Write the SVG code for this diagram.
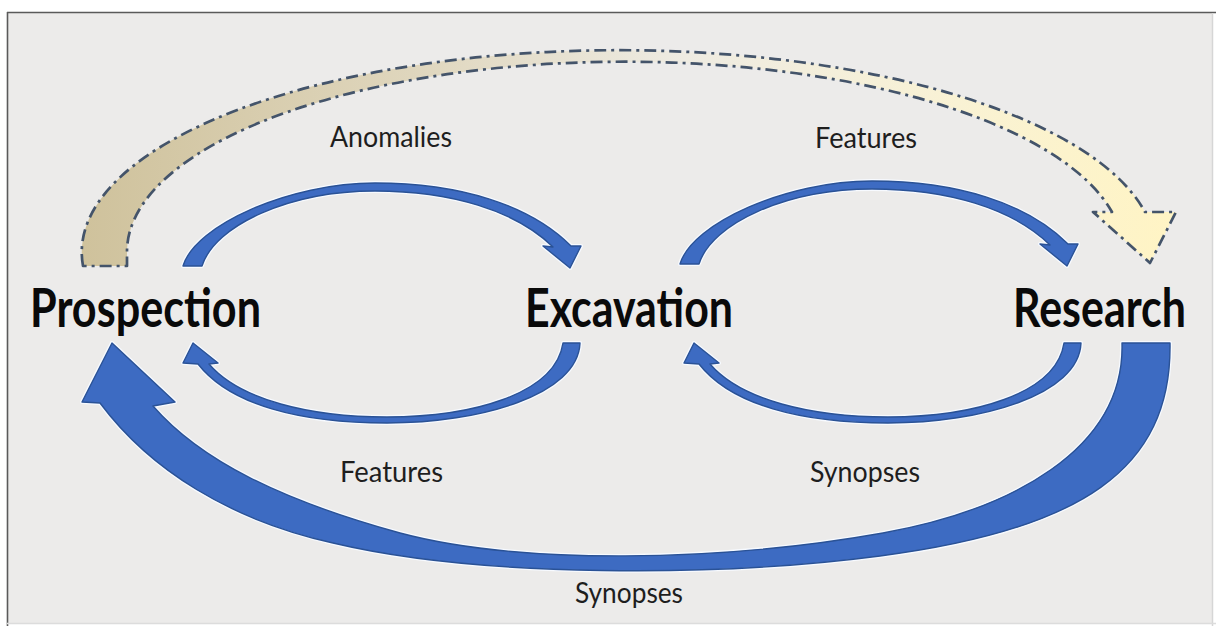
<svg xmlns="http://www.w3.org/2000/svg" width="1216" height="626" viewBox="0 0 1216 626">
  <defs>
    <linearGradient id="tanGrad" gradientUnits="userSpaceOnUse" x1="83" y1="0" x2="1176" y2="0">
      <stop offset="0" stop-color="#cfc29c"/>
      <stop offset="0.3" stop-color="#dfd6bd"/>
      <stop offset="0.55" stop-color="#eeebe2"/>
      <stop offset="0.8" stop-color="#f9f2d4"/>
      <stop offset="1" stop-color="#fff4c4"/>
    </linearGradient>
    <style>
      .bg { fill: #ecebea; }
      .halo { fill: none; stroke: #f7faff; stroke-width: 4; stroke-linejoin: round; }
      .blue { fill: #3d6bc2; stroke: #2a5296; stroke-width: 1.4; stroke-linejoin: round; }
      .dashed { fill: url(#tanGrad); stroke: #44546a; stroke-width: 2.7; stroke-dasharray: 12 5 3 5; stroke-linejoin: round; }
      .node { font-family: Lato, "Liberation Sans", Arial, sans-serif; font-weight: bold; font-size: 47px; fill: #0a0a0a; }
      .lbl { font-family: Lato, "Liberation Sans", Arial, sans-serif; font-size: 28px; fill: #1e1e1e; }
    </style>
    <path id="arcTop" d="M 183 266 C 195 225 290 183 375 183 C 460 183 530 205 571 246 L 581 246 L 570 268 L 543 246 L 553 247 C 515 210 450 191 375 191 C 290 191 215 225 202 266 Z"/>
    <path id="arcBot" d="M 563 343 L 580 343 C 578 395 480 423 387 423 C 300 423 230 405 198 364 L 183 363 L 193 343 L 218 363 L 209 364 C 240 400 310 417 387 417 C 470 417 555 395 563 343 Z"/>
  </defs>

  <rect x="0" y="0" width="1216" height="626" fill="#ffffff"/>
  <rect class="bg" x="7" y="12" width="1206" height="612"/>
  <line x1="7" y1="12.5" x2="1216" y2="12.5" stroke="#5a5a5a" stroke-width="1.6"/>
  <line x1="7.5" y1="12" x2="7.5" y2="626" stroke="#5a5a5a" stroke-width="1.6"/>
  <line x1="1212.5" y1="13" x2="1212.5" y2="626" stroke="#d6d6d6" stroke-width="1.5"/>
  <line x1="7" y1="623.5" x2="1216" y2="623.5" stroke="#dcdcdc" stroke-width="1.5"/>

  <g id="connectors">
    <g id="edge-prospection-research">
      <path class="dashed" d="M 83 266 A 537 202 0 0 1 1145 212 L 1176 212 L 1150 263 L 1093 212 L 1112 212 A 498 190 0 0 0 127 252 L 127 266 Z"/>
    </g>
    <g id="edge-prospection-excavation">
      <use href="#arcTop" class="halo"/>
      <use href="#arcTop" class="blue"/>
      <text class="lbl" x="330" y="147" textLength="122" lengthAdjust="spacingAndGlyphs">Anomalies</text>
    </g>
    <g id="edge-excavation-research">
      <use href="#arcTop" class="halo" transform="translate(497,-2)"/>
      <use href="#arcTop" class="blue" transform="translate(497,-2)"/>
      <text class="lbl" x="815" y="148" textLength="102" lengthAdjust="spacingAndGlyphs">Features</text>
    </g>
    <g id="edge-excavation-prospection">
      <use href="#arcBot" class="halo"/>
      <use href="#arcBot" class="blue"/>
      <text class="lbl" x="340" y="482" textLength="103" lengthAdjust="spacingAndGlyphs">Features</text>
    </g>
    <g id="edge-research-excavation">
      <use href="#arcBot" class="halo" transform="translate(501,0)"/>
      <use href="#arcBot" class="blue" transform="translate(501,0)"/>
      <text class="lbl" x="810" y="482" textLength="110" lengthAdjust="spacingAndGlyphs">Synopses</text>
    </g>
    <g id="edge-research-prospection">
      <path class="halo" d="M 1122 343 L 1170 343 C 1172 470 1080 530 880 556 C 720 577 480 578 333 543 C 230 520 150 470 100 403 L 82 402 L 112 343 L 175 402 L 153 406 C 200 460 280 500 400 533 C 520 565 720 562 883 533 C 1010 510 1125 450 1122 343 Z"/>
      <path class="blue" d="M 1122 343 L 1170 343 C 1172 470 1080 530 880 556 C 720 577 480 578 333 543 C 230 520 150 470 100 403 L 82 402 L 112 343 L 175 402 L 153 406 C 200 460 280 500 400 533 C 520 565 720 562 883 533 C 1010 510 1125 450 1122 343 Z"/>
      <text class="lbl" x="575" y="603" textLength="108" lengthAdjust="spacingAndGlyphs">Synopses</text>
    </g>
  </g>

  <g id="node-prospection">
    <text class="node" transform="translate(30,327) scale(1,1.13)" x="0" y="0" textLength="231" lengthAdjust="spacingAndGlyphs">Prospection</text>
  </g>
  <g id="node-excavation">
    <text class="node" transform="translate(525,327) scale(1,1.13)" x="0" y="0" textLength="208" lengthAdjust="spacingAndGlyphs">Excavation</text>
  </g>
  <g id="node-research">
    <text class="node" transform="translate(1013,327) scale(1,1.13)" x="0" y="0" textLength="173" lengthAdjust="spacingAndGlyphs">Research</text>
  </g>
</svg>
